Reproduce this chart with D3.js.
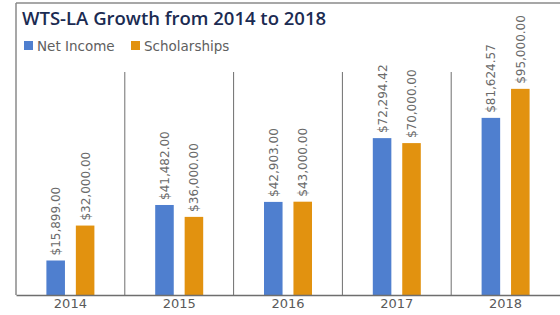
<!DOCTYPE html>
<html>
<head>
<meta charset="utf-8">
<script src="https://cdn.jsdelivr.net/npm/d3@7"></script>
<style>
  body { margin: 0; background: #fff; }
  text { font-family: "DejaVu Sans", sans-serif; }
</style>
</head>
<body>
<svg id="chart" width="560" height="315"></svg>
<script>
// chart data
const years = ["2014", "2015", "2016", "2017", "2018"];
const seriesNames = ["Net Income", "Scholarships"];
const netIncome = [15899.00, 41482.00, 42903.00, 72294.42, 81624.57];
const scholarships = [32000.00, 36000.00, 43000.00, 70000.00, 95000.00];
const colors = ["#4f7fcf", "#e2920f"];

let svg = d3.select("#chart");

let margin = {top: 3, left: 16, right: 0, bottom: 20},
    width = 560 - margin.left - margin.right,
    baseY = 295;

let xScale = d3.scaleBand()
    .domain(years)
    .range([margin.left, margin.left + width]);

let xInner = d3.scaleBand()
    .domain(seriesNames)
    .range([xScale.bandwidth() / 2 - 24, xScale.bandwidth() / 2 + 24])
    .paddingInner(0.37);

let yScale = d3.scaleLinear()
    .domain([0, 100000])
    .range([baseY, 78]);

let fmt = d3.format("$,.2f");

//Frame: top and left border
svg.append("line")
    .attr("x1", margin.left).attr("x2", 560)
    .attr("y1", margin.top).attr("y2", margin.top)
    .attr("stroke", "#8a8a8a").attr("stroke-width", 1.5);
svg.append("line")
    .attr("x1", margin.left).attr("x2", margin.left)
    .attr("y1", margin.top).attr("y2", baseY)
    .attr("stroke", "#8a8a8a").attr("stroke-width", 1.5);

//Category separators
svg.selectAll(".sep")
    .data(years.slice(1))
    .enter().append("line")
    .attr("class", "sep")
    .attr("x1", d => xScale(d)).attr("x2", d => xScale(d))
    .attr("y1", 72).attr("y2", baseY)
    .attr("stroke", "#6e6e6e").attr("stroke-width", 1);

//Title
svg.append("text")
    .attr("x", 22).attr("y", 25)
    .attr("fill", "#1b2b52")
    .style("font-family", "'Open Sans', sans-serif")
    .style("font-size", "18.5px")
    .style("font-weight", "600")
    .text("WTS-LA Growth from 2014 to 2018");

//Legend
let legend = svg.selectAll(".legend")
    .data(seriesNames)
    .enter().append("g")
    .attr("class", "legend")
    .attr("transform", (d, i) => "translate(" + (24 + i * 107) + ",41)");
legend.append("rect")
    .attr("width", 9).attr("height", 9)
    .attr("fill", (d, i) => colors[i]);
legend.append("text")
    .attr("x", 13).attr("y", 9.5)
    .attr("fill", "#606060")
    .style("font-size", "13.5px")
    .text(d => d);

//Bars
let rows = years.map((y, i) => ({year: y, values: [netIncome[i], scholarships[i]]}));

let groups = svg.selectAll(".year")
    .data(rows)
    .enter().append("g")
    .attr("class", "year")
    .attr("transform", d => "translate(" + xScale(d.year) + ",0)");

let bars = groups.selectAll("g.bar")
    .data(d => d.values.map((v, i) => ({name: seriesNames[i], value: v, i: i})))
    .enter().append("g")
    .attr("class", "bar");

bars.append("rect")
    .attr("x", d => xInner(d.name))
    .attr("width", xInner.bandwidth())
    .attr("y", d => yScale(d.value))
    .attr("height", d => baseY - yScale(d.value))
    .attr("fill", d => colors[d.i]);

bars.append("text")
    .attr("transform", d => "translate(" + (xInner(d.name) + xInner.bandwidth() / 2 + 4.5) + "," + (yScale(d.value) - 5) + ") rotate(-90)")
    .attr("fill", "#6a6a6a")
    .style("font-size", "12px")
    .text(d => fmt(d.value));

//x Axis
let xAxis = svg.append("g")
    .attr("transform", "translate(0," + baseY + ")")
    .call(d3.axisBottom(xScale).tickSize(0).tickPadding(4));
xAxis.select(".domain")
    .attr("stroke", "#6e6e6e").attr("stroke-width", 1.5);
xAxis.selectAll("text")
    .attr("fill", "#5a5a5a")
    .style("font-size", "13px")
    .style("font-family", "'DejaVu Sans', sans-serif");
</script>
</body>
</html>
